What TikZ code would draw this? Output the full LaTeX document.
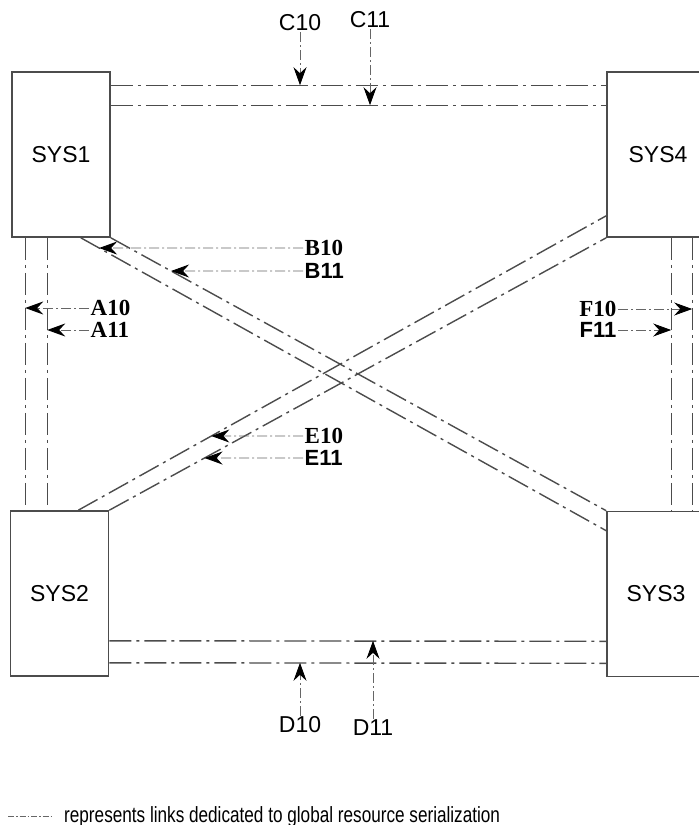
\documentclass[tikz,border=0pt]{standalone}
\usepackage{fontspec}
\setmainfont{Liberation Sans}
\newfontfamily\serifbold{Liberation Serif}
\newfontfamily\legendfont[FakeStretch=0.78]{Liberation Sans}
\usetikzlibrary{arrows.meta,calc}
\tikzset{
  sysbox/.style={draw=black!70, line width=1.6pt, minimum width=98pt, minimum height=165pt,
                 inner sep=0pt, font=\fontsize{23}{23}\selectfont},
  link/.style={draw=black!70, line width=1.4pt, dash pattern=on 22pt off 5pt on 3pt off 5pt},
  callout/.style={draw=black!60, line width=0.9pt, dash pattern=on 10pt off 3pt on 2pt off 3pt,
                  -{Stealth[length=18pt,width=13pt,inset=6pt,black]}},
  sanslab/.style={font=\fontsize{23}{23}\selectfont, inner sep=1pt},
  seriflab/.style={font=\fontsize{23}{23}\selectfont\serifbold\bfseries, inner sep=1.5pt},
  boldlab/.style={font=\fontsize{22}{22}\selectfont\bfseries, inner sep=1.5pt},
}

\begin{document}
\begin{tikzpicture}[x=1pt,y=-1pt]
    \useasboundingbox (0,0) rectangle (699,825);
    % systems
    \node[sysbox] (sys1) at (61,154.5) {\raisebox{-5pt}{SYS1}};
    \node[sysbox, minimum width=102pt] (sys4) at (658,154.5) {\raisebox{-3pt}{SYS4}};
    \node[sysbox] (sys2) at (59.5,593.5) {SYS2};
    \node[sysbox] (sys3) at (656,594) {SYS3};
    % link end points
    \coordinate (c0s) at ([yshift=-14pt]sys1.north east);
    \coordinate (c0e) at ([yshift=-14pt]sys4.north west);
    \coordinate (c1s) at ([yshift=-34pt]sys1.north east);
    \coordinate (c1e) at ([yshift=-34pt]sys4.north west);
    \coordinate (d0s) at ([yshift=14pt]sys2.south east);
    \coordinate (d0e) at ([yshift=14pt]sys3.south west);
    \coordinate (d1s) at ([yshift=36pt]sys2.south east);
    \coordinate (d1e) at ([yshift=36pt]sys3.south west);
    \coordinate (a0s) at ([xshift=14pt]sys1.south west);
    \coordinate (a0e) at (a0s |- sys2.north);
    \coordinate (a1s) at ([xshift=36pt]sys1.south west);
    \coordinate (a1e) at (a1s |- sys2.north);
    \coordinate (f0s) at ([xshift=86pt]sys4.south west);
    \coordinate (f0e) at (f0s |- sys3.north);
    \coordinate (f1s) at ([xshift=65pt]sys4.south west);
    \coordinate (f1e) at (f1s |- sys3.north);
    \coordinate (b0s) at ([xshift=-30pt]sys1.south east);
    \coordinate (b0e) at ([yshift=-20pt]sys3.north west);
    \coordinate (b1s) at (sys1.south east);
    \coordinate (b1e) at (sys3.north west);
    \coordinate (e0s) at ([xshift=-31pt]sys2.north east);
    \coordinate (e0e) at ([yshift=22pt]sys4.south west);
    \coordinate (e1s) at (sys2.north east);
    \coordinate (e1e) at (sys4.south west);
    % links
    \foreach \l in {c0,c1,d0,d1,a0,a1,f0,f1,b0,b1,e0,e1}
        \draw[link] (\l s) -- (\l e);
    % labels on top and bottom
    \node[sanslab] (C10) at (300,23) {C10};
    \node[sanslab] (C11) at (370,20) {C11};
    \node[sanslab] (D10) at (300,725) {D10};
    \node[sanslab] (D11) at (373,728) {D11};
    \draw[callout] (C10.south) -- (C10.south |- c0s);
    \draw[callout] (C11.south) -- (C11.south |- c1s);
    \draw[callout] (D10.north) -- (D10.north |- d0s);
    \draw[callout] (D11.north) -- (D11.north |- d1s);
    % labels on the sides
    \node[seriflab, anchor=west] (A10) at (89,308) {A10};
    \node[seriflab, anchor=west] (A11) at (89,330) {A11};
    \node[seriflab, anchor=east] (F10) at (618,309) {F10};
    \node[boldlab, anchor=east] (F11) at (618,330) {F11};
    \draw[callout] (A10.west) -- (A10.west -| a0s);
    \draw[callout] (A11.west) -- (A11.west -| a1s);
    \draw[callout] (F10.east) -- (F10.east -| f0s);
    \draw[callout] (F11.east) -- (F11.east -| f1s);
    % labels on the diagonals
    \node[seriflab, anchor=west] (B10) at (303,248) {B10};
    \node[boldlab, anchor=west] (B11) at (303,271) {B11};
    \node[seriflab, anchor=west] (E10) at (303,436) {E10};
    \node[boldlab, anchor=west] (E11) at (303,458) {E11};
    \foreach \n/\l in {B10/b0,B11/b1,E10/e0,E11/e1}{
        \coordinate (\n h) at ([xshift=-10pt]\n.west);
        \coordinate (\n w) at (\n.west);
        \draw[callout] (\n w) -- (intersection of \n w--\n h and \l s--\l e);
    }
    % legend
    \coordinate (lg0) at (8,816);
    \coordinate (lg1) at (52,816);
    \draw[draw=black!60, line width=0.9pt, dash pattern=on 6pt off 2pt on 1.5pt off 2pt] (lg0) -- (lg1);
    \node[anchor=base west, inner sep=0pt, font=\fontsize{22}{22}\selectfont\legendfont] (legend) at (64,822)
        {represents links dedicated to global resource serialization};
\end{tikzpicture}
\end{document}
